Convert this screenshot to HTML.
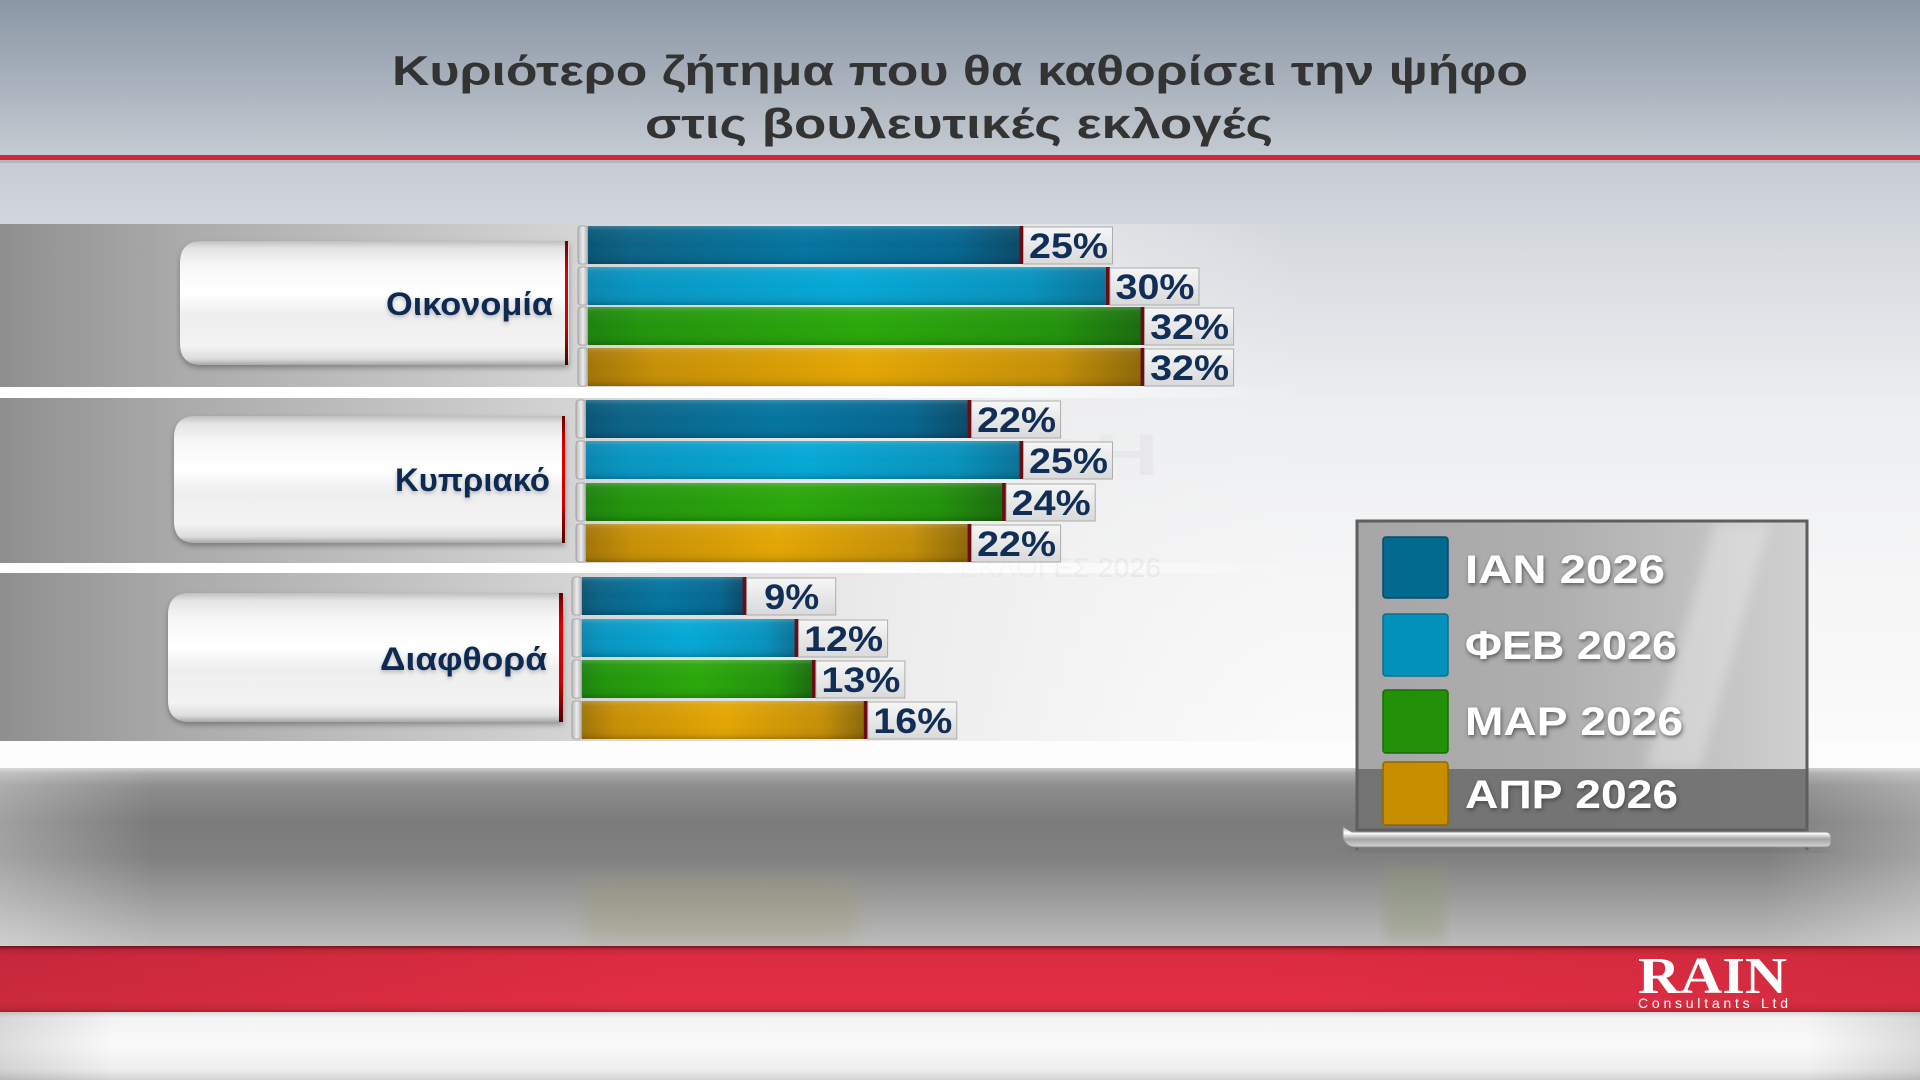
<!DOCTYPE html>
<html><head><meta charset="utf-8"><style>
html,body{margin:0;padding:0;width:1920px;height:1080px;overflow:hidden;background:#fff}
svg{display:block}
text{font-family:"Liberation Sans","DejaVu Sans",sans-serif;font-weight:bold}
</style></head><body>
<svg width="1920" height="1080" viewBox="0 0 1920 1080" xmlns="http://www.w3.org/2000/svg">
<defs>
 <linearGradient id="gTop" x1="0" y1="0" x2="0" y2="157" gradientUnits="userSpaceOnUse">
  <stop offset="0" stop-color="#8b97a6"/><stop offset="0.5" stop-color="#a7b0bb"/><stop offset="1" stop-color="#c5cbd2"/>
 </linearGradient>
 <linearGradient id="gMid" x1="0" y1="160" x2="0" y2="768" gradientUnits="userSpaceOnUse">
  <stop offset="0" stop-color="#c6ccd3"/><stop offset="0.15" stop-color="#d7dbe0"/><stop offset="0.4" stop-color="#eceef0"/><stop offset="0.7" stop-color="#f6f6f7"/><stop offset="1" stop-color="#fbfbfb"/>
 </linearGradient>
 <linearGradient id="gBand" x1="0" y1="0" x2="1300" y2="0" gradientUnits="userSpaceOnUse">
  <stop offset="0" stop-color="#8f8f8f"/><stop offset="0.14" stop-color="#ababab"/><stop offset="0.44" stop-color="#d4d4d4"/><stop offset="0.7" stop-color="#ececec" stop-opacity="0.9"/><stop offset="1" stop-color="#f2f2f2" stop-opacity="0"/>
 </linearGradient>
 <linearGradient id="gGap" x1="0" y1="0" x2="1300" y2="0" gradientUnits="userSpaceOnUse">
  <stop offset="0" stop-color="#ffffff"/><stop offset="0.7" stop-color="#ffffff"/><stop offset="1" stop-color="#ffffff" stop-opacity="0"/>
 </linearGradient>
 <linearGradient id="gPill" x1="0" y1="0" x2="0" y2="1">
  <stop offset="0" stop-color="#c0c0c0"/><stop offset="0.06" stop-color="#e4e4e4"/><stop offset="0.2" stop-color="#f7f7f7"/><stop offset="0.42" stop-color="#ffffff"/><stop offset="0.6" stop-color="#eeeeee"/><stop offset="0.85" stop-color="#f3f3f3"/><stop offset="0.95" stop-color="#dcdcdc"/><stop offset="1" stop-color="#a8a8a8"/>
 </linearGradient>
 <linearGradient id="gRedLine" x1="0" y1="0" x2="0" y2="1">
  <stop offset="0" stop-color="#6a0000"/><stop offset="0.25" stop-color="#e00000"/><stop offset="0.7" stop-color="#c80000"/><stop offset="1" stop-color="#4a0000"/>
 </linearGradient>
 <linearGradient id="c1" x1="0" y1="0" x2="1" y2="0">
  <stop offset="0" stop-color="#0a5575"/><stop offset="0.1" stop-color="#0b6386"/><stop offset="0.5" stop-color="#0475a0"/><stop offset="0.85" stop-color="#066690"/><stop offset="1" stop-color="#0b4a68"/>
 </linearGradient>
 <linearGradient id="c2" x1="0" y1="0" x2="1" y2="0">
  <stop offset="0" stop-color="#0a86b0"/><stop offset="0.1" stop-color="#0896c2"/><stop offset="0.5" stop-color="#06a8d6"/><stop offset="0.85" stop-color="#0893bd"/><stop offset="1" stop-color="#0a7298"/>
 </linearGradient>
 <linearGradient id="c3" x1="0" y1="0" x2="1" y2="0">
  <stop offset="0" stop-color="#1d820e"/><stop offset="0.1" stop-color="#22950c"/><stop offset="0.5" stop-color="#2aa80a"/><stop offset="0.85" stop-color="#22920c"/><stop offset="1" stop-color="#1a6c0e"/>
 </linearGradient>
 <linearGradient id="c4" x1="0" y1="0" x2="1" y2="0">
  <stop offset="0" stop-color="#a27508"/><stop offset="0.12" stop-color="#c68f06"/><stop offset="0.5" stop-color="#e3a603"/><stop offset="0.85" stop-color="#c48f08"/><stop offset="1" stop-color="#8c680a"/>
 </linearGradient>
 <linearGradient id="gGloss" x1="0" y1="0" x2="0" y2="1">
  <stop offset="0" stop-color="#ffffff" stop-opacity="0.2"/><stop offset="0.12" stop-color="#ffffff" stop-opacity="0.05"/><stop offset="0.5" stop-color="#ffffff" stop-opacity="0"/><stop offset="0.88" stop-color="#000000" stop-opacity="0.05"/><stop offset="1" stop-color="#000000" stop-opacity="0.2"/>
 </linearGradient>
 <linearGradient id="gBox" x1="0" y1="0" x2="0" y2="1">
  <stop offset="0" stop-color="#f6f6f6"/><stop offset="1" stop-color="#d9d9d9"/>
 </linearGradient>
 <linearGradient id="gCap" x1="0" y1="0" x2="1" y2="0">
  <stop offset="0" stop-color="#b8b8b8"/><stop offset="0.5" stop-color="#ececec"/><stop offset="1" stop-color="#aaaaaa"/>
 </linearGradient>
 <linearGradient id="gFloor" x1="0" y1="768" x2="0" y2="946" gradientUnits="userSpaceOnUse">
  <stop offset="0" stop-color="#cdcdcd"/><stop offset="0.03" stop-color="#a9a9a9"/><stop offset="0.1" stop-color="#8d8d8d"/><stop offset="0.3" stop-color="#7b7b7b"/><stop offset="0.5" stop-color="#808080"/><stop offset="0.75" stop-color="#9e9e9e"/><stop offset="1" stop-color="#bdbdbd"/>
 </linearGradient>
 <linearGradient id="gSideW" x1="0" y1="0" x2="1920" y2="0" gradientUnits="userSpaceOnUse">
  <stop offset="0" stop-color="#ffffff" stop-opacity="0.28"/><stop offset="0.08" stop-color="#ffffff" stop-opacity="0"/><stop offset="0.92" stop-color="#ffffff" stop-opacity="0"/><stop offset="1" stop-color="#ffffff" stop-opacity="0.28"/>
 </linearGradient>
 <linearGradient id="gRed" x1="0" y1="946" x2="0" y2="1012" gradientUnits="userSpaceOnUse">
  <stop offset="0" stop-color="#7d1220"/><stop offset="0.06" stop-color="#c9283a"/><stop offset="0.15" stop-color="#dc2c41"/><stop offset="0.85" stop-color="#e22e44"/><stop offset="0.96" stop-color="#d02a3c"/><stop offset="1" stop-color="#b02535"/>
 </linearGradient>
 <linearGradient id="gSideK" x1="0" y1="0" x2="1920" y2="0" gradientUnits="userSpaceOnUse">
  <stop offset="0" stop-color="#000000" stop-opacity="0.1"/><stop offset="0.35" stop-color="#000000" stop-opacity="0"/><stop offset="0.65" stop-color="#000000" stop-opacity="0"/><stop offset="1" stop-color="#000000" stop-opacity="0.06"/>
 </linearGradient>
 <linearGradient id="gBot" x1="0" y1="1012" x2="0" y2="1080" gradientUnits="userSpaceOnUse">
  <stop offset="0" stop-color="#d8d8d8"/><stop offset="0.08" stop-color="#f3f3f3"/><stop offset="0.5" stop-color="#fafafa"/><stop offset="0.85" stop-color="#eeeeee"/><stop offset="1" stop-color="#d2d2d2"/>
 </linearGradient>
 <linearGradient id="gSideG" x1="0" y1="0" x2="1920" y2="0" gradientUnits="userSpaceOnUse">
  <stop offset="0" stop-color="#000000" stop-opacity="0.12"/><stop offset="0.06" stop-color="#000000" stop-opacity="0"/><stop offset="0.94" stop-color="#000000" stop-opacity="0"/><stop offset="1" stop-color="#000000" stop-opacity="0.12"/>
 </linearGradient>
 <linearGradient id="gPanel" x1="0" y1="0" x2="1" y2="0">
  <stop offset="0" stop-color="#a6a6a6"/><stop offset="0.45" stop-color="#afafaf"/><stop offset="0.7" stop-color="#bdbdbd"/><stop offset="1" stop-color="#d0d0d0"/>
 </linearGradient>
 <linearGradient id="gBase" x1="0" y1="0" x2="0" y2="1">
  <stop offset="0" stop-color="#bcbcbc"/><stop offset="0.3" stop-color="#ffffff"/><stop offset="0.6" stop-color="#a4a4a4"/><stop offset="1" stop-color="#d4d4d4"/>
 </linearGradient>
 <filter id="fShadow" x="-10%" y="-20%" width="120%" height="150%">
  <feDropShadow dx="0" dy="3" stdDeviation="3" flood-color="#000" flood-opacity="0.3"/>
 </filter>
 <filter id="fTxt" x="-10%" y="-30%" width="120%" height="160%">
  <feDropShadow dx="1" dy="2" stdDeviation="2" flood-color="#333" flood-opacity="0.7"/>
 </filter>
 <filter id="fGlow" x="-10%" y="-30%" width="120%" height="160%">
  <feDropShadow dx="0" dy="2" stdDeviation="2" flood-color="#000" flood-opacity="0.25"/>
 </filter>
 <filter id="fBlur"><feGaussianBlur stdDeviation="12"/></filter>
 <filter id="fBlur2"><feGaussianBlur stdDeviation="6"/></filter>
</defs>

<!-- Background -->
<rect x="0" y="0" width="1920" height="157" fill="url(#gTop)"/>
<rect x="0" y="160" width="1920" height="608" fill="url(#gMid)"/>
<rect x="0" y="155" width="1920" height="5" fill="#d0283a"/>
<rect x="0" y="160" width="1920" height="3" fill="#b3b8be"/>

<!-- Title -->
<text x="392" y="85" font-size="42" fill="#333333" textLength="1136" lengthAdjust="spacingAndGlyphs">Κυριότερο ζήτημα που θα καθορίσει την ψήφο</text>
<text x="645" y="138" font-size="42" fill="#333333" textLength="628" lengthAdjust="spacingAndGlyphs">στις βουλευτικές εκλογές</text>

<!-- Watermark -->
<text x="757" y="577" font-size="27" fill="#e1e2e5" textLength="404" lengthAdjust="spacingAndGlyphs" style="font-weight:normal">ΒΟΥΛΕΥΤΙΚΕΣ ΕΚΛΟΓΕΣ 2026</text>
<text x="1019" y="475" font-size="58" fill="#e3e4e7" textLength="140" lengthAdjust="spacingAndGlyphs">ΦΗ</text>

<!-- Bands -->
<rect x="0" y="224" width="1300" height="163" fill="url(#gBand)"/>
<rect x="0" y="398" width="1300" height="165" fill="url(#gBand)"/>
<rect x="0" y="573" width="1300" height="168" fill="url(#gBand)"/>
<rect x="0" y="387" width="1300" height="11" fill="url(#gGap)"/>
<rect x="0" y="563" width="1300" height="10" fill="url(#gGap)"/>
<rect x="0" y="741" width="1920" height="27" fill="#fdfdfd"/>

<!-- Pills -->
<path d="M202,241 H569 V365 H202 Q180,365 180,343 V263 Q180,241 202,241 Z" fill="url(#gPill)" filter="url(#fShadow)"/>
<rect x="565" y="241" width="3" height="124" fill="url(#gRedLine)"/>
<text x="386" y="315" font-size="32" fill="#0f2b52" textLength="167" lengthAdjust="spacingAndGlyphs" filter="url(#fGlow)">Οικονομία</text>

<path d="M196,416 H565 V543 H196 Q174,543 174,521 V438 Q174,416 196,416 Z" fill="url(#gPill)" filter="url(#fShadow)"/>
<rect x="562" y="416" width="3" height="127" fill="url(#gRedLine)"/>
<text x="395" y="491" font-size="32" fill="#0f2b52" textLength="155" lengthAdjust="spacingAndGlyphs" filter="url(#fGlow)">Κυπριακό</text>

<path d="M190,593 H563 V722 H190 Q168,722 168,700 V615 Q168,593 190,593 Z" fill="url(#gPill)" filter="url(#fShadow)"/>
<rect x="559" y="593" width="4" height="129" fill="url(#gRedLine)"/>
<text x="380" y="670" font-size="32" fill="#0f2b52" textLength="167" lengthAdjust="spacingAndGlyphs" filter="url(#fGlow)">Διαφθορά</text>

<!-- Group 1 bars -->
<g>
 <rect x="578" y="226" width="10" height="38" rx="3" fill="url(#gCap)" stroke="#9a9a9a" stroke-width="0.8"/>
 <rect x="588" y="226" width="432.5" height="38" fill="url(#c1)"/><rect x="588" y="226" width="432.5" height="38" fill="url(#gGloss)"/>
 <rect x="1019.5" y="226" width="4" height="38" fill="#6b0c12"/>
 <rect x="1023.5" y="227" width="89" height="37" fill="url(#gBox)" stroke="#adadad"/>
 <text x="1029" y="258" font-size="35" fill="#112e57" textLength="79" lengthAdjust="spacingAndGlyphs">25%</text>

 <rect x="578" y="267" width="10" height="38" rx="3" fill="url(#gCap)" stroke="#9a9a9a" stroke-width="0.8"/>
 <rect x="588" y="267" width="519" height="38" fill="url(#c2)"/><rect x="588" y="267" width="519" height="38" fill="url(#gGloss)"/>
 <rect x="1106" y="267" width="4" height="38" fill="#6b0c12"/>
 <rect x="1110" y="268" width="89" height="37" fill="url(#gBox)" stroke="#adadad"/>
 <text x="1115.5" y="299" font-size="35" fill="#112e57" textLength="79" lengthAdjust="spacingAndGlyphs">30%</text>

 <rect x="578" y="307" width="10" height="38" rx="3" fill="url(#gCap)" stroke="#9a9a9a" stroke-width="0.8"/>
 <rect x="588" y="307" width="553.6" height="38" fill="url(#c3)"/><rect x="588" y="307" width="553.6" height="38" fill="url(#gGloss)"/>
 <rect x="1140.6" y="307" width="4" height="38" fill="#6b0c12"/>
 <rect x="1144.6" y="308" width="89" height="37" fill="url(#gBox)" stroke="#adadad"/>
 <text x="1150.1" y="339" font-size="35" fill="#112e57" textLength="79" lengthAdjust="spacingAndGlyphs">32%</text>

 <rect x="578" y="348" width="10" height="38" rx="3" fill="url(#gCap)" stroke="#9a9a9a" stroke-width="0.8"/>
 <rect x="588" y="348" width="553.6" height="38" fill="url(#c4)"/><rect x="588" y="348" width="553.6" height="38" fill="url(#gGloss)"/>
 <rect x="1140.6" y="348" width="4" height="38" fill="#6b0c12"/>
 <rect x="1144.6" y="349" width="89" height="37" fill="url(#gBox)" stroke="#adadad"/>
 <text x="1150.1" y="380" font-size="35" fill="#112e57" textLength="79" lengthAdjust="spacingAndGlyphs">32%</text>
</g>

<!-- Group 2 bars -->
<g>
 <rect x="576" y="400" width="10" height="38" rx="3" fill="url(#gCap)" stroke="#9a9a9a" stroke-width="0.8"/>
 <rect x="586" y="400" width="382.6" height="38" fill="url(#c1)"/><rect x="586" y="400" width="382.6" height="38" fill="url(#gGloss)"/>
 <rect x="967.6" y="400" width="4" height="38" fill="#6b0c12"/>
 <rect x="971.6" y="401" width="89" height="37" fill="url(#gBox)" stroke="#adadad"/>
 <text x="977.1" y="432" font-size="35" fill="#112e57" textLength="79" lengthAdjust="spacingAndGlyphs">22%</text>

 <rect x="576" y="441" width="10" height="38" rx="3" fill="url(#gCap)" stroke="#9a9a9a" stroke-width="0.8"/>
 <rect x="586" y="441" width="434.5" height="38" fill="url(#c2)"/><rect x="586" y="441" width="434.5" height="38" fill="url(#gGloss)"/>
 <rect x="1019.5" y="441" width="4" height="38" fill="#6b0c12"/>
 <rect x="1023.5" y="442" width="89" height="37" fill="url(#gBox)" stroke="#adadad"/>
 <text x="1029" y="473" font-size="35" fill="#112e57" textLength="79" lengthAdjust="spacingAndGlyphs">25%</text>

 <rect x="576" y="483" width="10" height="38" rx="3" fill="url(#gCap)" stroke="#9a9a9a" stroke-width="0.8"/>
 <rect x="586" y="483" width="417.2" height="38" fill="url(#c3)"/><rect x="586" y="483" width="417.2" height="38" fill="url(#gGloss)"/>
 <rect x="1002.2" y="483" width="4" height="38" fill="#6b0c12"/>
 <rect x="1006.2" y="484" width="89" height="37" fill="url(#gBox)" stroke="#adadad"/>
 <text x="1011.7" y="515" font-size="35" fill="#112e57" textLength="79" lengthAdjust="spacingAndGlyphs">24%</text>

 <rect x="576" y="524" width="10" height="38" rx="3" fill="url(#gCap)" stroke="#9a9a9a" stroke-width="0.8"/>
 <rect x="586" y="524" width="382.6" height="38" fill="url(#c4)"/><rect x="586" y="524" width="382.6" height="38" fill="url(#gGloss)"/>
 <rect x="967.6" y="524" width="4" height="38" fill="#6b0c12"/>
 <rect x="971.6" y="525" width="89" height="37" fill="url(#gBox)" stroke="#adadad"/>
 <text x="977.1" y="556" font-size="35" fill="#112e57" textLength="79" lengthAdjust="spacingAndGlyphs">22%</text>
</g>

<!-- Group 3 bars -->
<g>
 <rect x="572" y="577" width="10" height="38" rx="3" fill="url(#gCap)" stroke="#9a9a9a" stroke-width="0.8"/>
 <rect x="582" y="577" width="161.7" height="38" fill="url(#c1)"/><rect x="582" y="577" width="161.7" height="38" fill="url(#gGloss)"/>
 <rect x="742.7" y="577" width="4" height="38" fill="#6b0c12"/>
 <rect x="746.7" y="578" width="89" height="37" fill="url(#gBox)" stroke="#adadad"/>
 <text x="764.2" y="609" font-size="35" fill="#112e57" textLength="55" lengthAdjust="spacingAndGlyphs">9%</text>

 <rect x="572" y="619" width="10" height="38" rx="3" fill="url(#gCap)" stroke="#9a9a9a" stroke-width="0.8"/>
 <rect x="582" y="619" width="213.6" height="38" fill="url(#c2)"/><rect x="582" y="619" width="213.6" height="38" fill="url(#gGloss)"/>
 <rect x="794.6" y="619" width="4" height="38" fill="#6b0c12"/>
 <rect x="798.6" y="620" width="89" height="37" fill="url(#gBox)" stroke="#adadad"/>
 <text x="804.1" y="651" font-size="35" fill="#112e57" textLength="79" lengthAdjust="spacingAndGlyphs">12%</text>

 <rect x="572" y="660" width="10" height="38" rx="3" fill="url(#gCap)" stroke="#9a9a9a" stroke-width="0.8"/>
 <rect x="582" y="660" width="230.9" height="38" fill="url(#c3)"/><rect x="582" y="660" width="230.9" height="38" fill="url(#gGloss)"/>
 <rect x="811.9" y="660" width="4" height="38" fill="#6b0c12"/>
 <rect x="815.9" y="661" width="89" height="37" fill="url(#gBox)" stroke="#adadad"/>
 <text x="821.4" y="692" font-size="35" fill="#112e57" textLength="79" lengthAdjust="spacingAndGlyphs">13%</text>

 <rect x="572" y="701" width="10" height="38" rx="3" fill="url(#gCap)" stroke="#9a9a9a" stroke-width="0.8"/>
 <rect x="582" y="701" width="282.8" height="38" fill="url(#c4)"/><rect x="582" y="701" width="282.8" height="38" fill="url(#gGloss)"/>
 <rect x="863.8" y="701" width="4" height="38" fill="#6b0c12"/>
 <rect x="867.8" y="702" width="89" height="37" fill="url(#gBox)" stroke="#adadad"/>
 <text x="873.3" y="733" font-size="35" fill="#112e57" textLength="79" lengthAdjust="spacingAndGlyphs">16%</text>
</g>

<!-- Floor -->
<rect x="0" y="768" width="1920" height="178" fill="url(#gFloor)"/>
<rect x="0" y="768" width="1920" height="178" fill="url(#gSideW)"/>
<rect x="585" y="880" width="270" height="60" fill="#9c9a6e" opacity="0.35" filter="url(#fBlur)"/>
<rect x="1385" y="870" width="60" height="70" fill="#8f9a70" opacity="0.35" filter="url(#fBlur2)"/>

<!-- Red footer band -->
<rect x="0" y="946" width="1920" height="66" fill="url(#gRed)"/>
<rect x="0" y="946" width="1920" height="66" fill="url(#gSideK)"/>
<rect x="0" y="1012" width="1920" height="68" fill="url(#gBot)"/>
<rect x="0" y="1012" width="1920" height="68" fill="url(#gSideG)"/>

<!-- Logo -->
<text x="1638" y="993" font-size="52" fill="#ffffff" textLength="149" lengthAdjust="spacingAndGlyphs" style="font-family:'Liberation Serif',serif;font-weight:bold">RAIN</text>
<text x="1638" y="1008" font-size="14" fill="#ffffff" textLength="150" lengthAdjust="spacing" style="font-weight:normal">Consultants Ltd</text>

<!-- Legend -->
<g>
 <rect x="1357" y="521" width="450" height="309" fill="url(#gPanel)"/>
 <polygon points="1715,523 1770,523 1700,768 1645,768" fill="#ffffff" opacity="0.3" filter="url(#fBlur2)"/>
 <rect x="1358" y="769" width="448" height="60" fill="#6f6f6f" opacity="0.92"/>
 <rect x="1357" y="521" width="450" height="309" fill="none" stroke="#5e5e5e" stroke-width="3"/>
 <line x1="1357" y1="830" x2="1357" y2="850" stroke="#666" stroke-width="3"/>
 <line x1="1807" y1="830" x2="1807" y2="850" stroke="#666" stroke-width="3"/>

 <rect x="1383" y="537" width="65" height="61" rx="3" fill="#016a8e" stroke="#0a4a66" stroke-width="1.5"/>
 <rect x="1383" y="614" width="65" height="62" rx="3" fill="#0292bb" stroke="#0a6e90" stroke-width="1.5"/>
 <rect x="1383" y="690" width="65" height="63" rx="3" fill="#229108" stroke="#176a08" stroke-width="1.5"/>
 <rect x="1383" y="762" width="65" height="63" rx="3" fill="#c78f00" stroke="#8f6800" stroke-width="1.5"/>

 <text x="1465" y="583" font-size="40" fill="#ffffff" textLength="200" lengthAdjust="spacingAndGlyphs" filter="url(#fTxt)">ΙΑΝ 2026</text>
 <text x="1465" y="659" font-size="40" fill="#ffffff" textLength="212" lengthAdjust="spacingAndGlyphs" filter="url(#fTxt)">ΦΕΒ 2026</text>
 <text x="1465" y="735" font-size="40" fill="#ffffff" textLength="218" lengthAdjust="spacingAndGlyphs" filter="url(#fTxt)">ΜΑΡ 2026</text>
 <text x="1465" y="808" font-size="40" fill="#ffffff" textLength="213" lengthAdjust="spacingAndGlyphs" filter="url(#fTxt)">ΑΠΡ 2026</text>

 <rect x="1350" y="846" width="480" height="6" fill="#555" opacity="0.35" filter="url(#fBlur2)"/>
 <path d="M1343,827 L1352,832 H1826 Q1831,832 1831,838 V842 Q1831,847 1826,847 H1356 Q1346,847 1343,838 Z" fill="url(#gBase)" stroke="#8f8f8f" stroke-width="1"/>
</g>
</svg>
</body></html>
